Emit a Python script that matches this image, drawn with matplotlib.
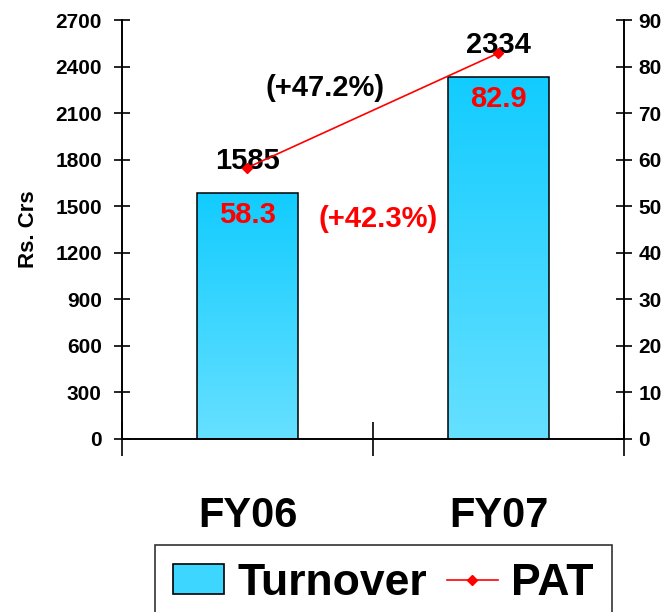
import matplotlib.pyplot as plt
import numpy as np
from matplotlib.colors import LinearSegmentedColormap
from matplotlib.patches import Patch
from matplotlib.lines import Line2D

plt.rcParams['font.family'] = ['Liberation Sans', 'DejaVu Sans']
plt.rcParams['font.weight'] = 'bold'

years = ['FY06', 'FY07']
turnover = [1585, 2334]
pat = [58.3, 82.9]
turnover_growth = '(+47.2%)'
pat_growth = '(+42.3%)'

fig = plt.figure(figsize=(6.72, 6.12), dpi=100)
ax = fig.add_axes([0.1815, 0.2827, 0.747, 0.6846])
ax2 = ax.twinx()

x = np.arange(len(years))
bars = ax.bar(x, turnover, width=0.4, color='none', edgecolor='black', linewidth=1.1, zorder=3)

# vertical gradient inside each bar
cmap = LinearSegmentedColormap.from_list('cy', ['#66e0ff', '#12ccff'])
grad = np.linspace(0, 1, 256).reshape(-1, 1)
for b in bars:
    x0, y0 = b.get_x(), b.get_y()
    im = ax.imshow(grad, cmap=cmap, origin='lower', aspect='auto',
                   extent=[x0, x0 + b.get_width(), y0, y0 + b.get_height()], zorder=2)
    im.set_clip_path(b)

ax.set_xlim(-0.5, 1.5)
ax.set_ylim(0, 2700)
ax.set_yticks(range(0, 2701, 300))
ax2.set_ylim(0, 90)
ax2.set_yticks(range(0, 91, 10))

ax2.plot(x, pat, color='red', marker='D', markersize=5, linewidth=1.2, zorder=4)

ax.spines['top'].set_visible(False)
ax2.spines['top'].set_visible(False)
for a in (ax, ax2):
    for s in a.spines.values():
        s.set_linewidth(1.2)

ax.tick_params(axis='y', direction='inout', length=11, width=1.2, labelsize=15, pad=9)
ax2.tick_params(axis='y', direction='inout', length=11, width=1.2, labelsize=15, pad=5)
ax.set_xticks([-0.5, 0.5, 1.5])
ax.set_xticklabels([])
ax.tick_params(axis='x', direction='inout', length=24, width=1.2)
for i, yr in enumerate(years):
    ax.text(i, -0.185, yr, transform=ax.get_xaxis_transform(), ha='center', va='center',
            fontsize=30, fontweight='bold')

ax.set_ylabel('Rs. Crs', fontsize=16, fontweight='bold', labelpad=12)

for i in range(len(years)):
    ax.annotate(str(turnover[i]), (x[i], turnover[i]), xytext=(0, 23), textcoords='offset points',
                ha='center', va='center', fontsize=21, fontweight='bold', zorder=5)
    ax.annotate(f'{pat[i]}', (x[i], turnover[i]), xytext=(0, -16), textcoords='offset points',
                ha='center', va='center', fontsize=21, fontweight='bold', color='red', zorder=5)

ax2.text(0.31, 75.5, turnover_growth, ha='center', va='center', fontsize=21, fontweight='bold')
ax2.text(0.52, 47.3, pat_growth, ha='center', va='center', fontsize=21, fontweight='bold', color='red')

handles = [Patch(facecolor='#3dd6ff', edgecolor='black', linewidth=1.2),
           Line2D([0], [0], color='red', marker='D', markersize=5, linewidth=1.2)]
leg = fig.legend(handles, ['Turnover', 'PAT'], loc='upper left', bbox_to_anchor=(0.2307, 0.1095),
                 ncol=2, frameon=True, fancybox=False, edgecolor='black', borderaxespad=0,
                 handlelength=1.15, handleheight=0.65, columnspacing=0.45, handletextpad=0.3,
                 borderpad=0.4, prop={'weight': 'bold', 'size': 32})
leg.get_frame().set_linewidth(1.2)

fig.savefig('out.png', dpi=100)
